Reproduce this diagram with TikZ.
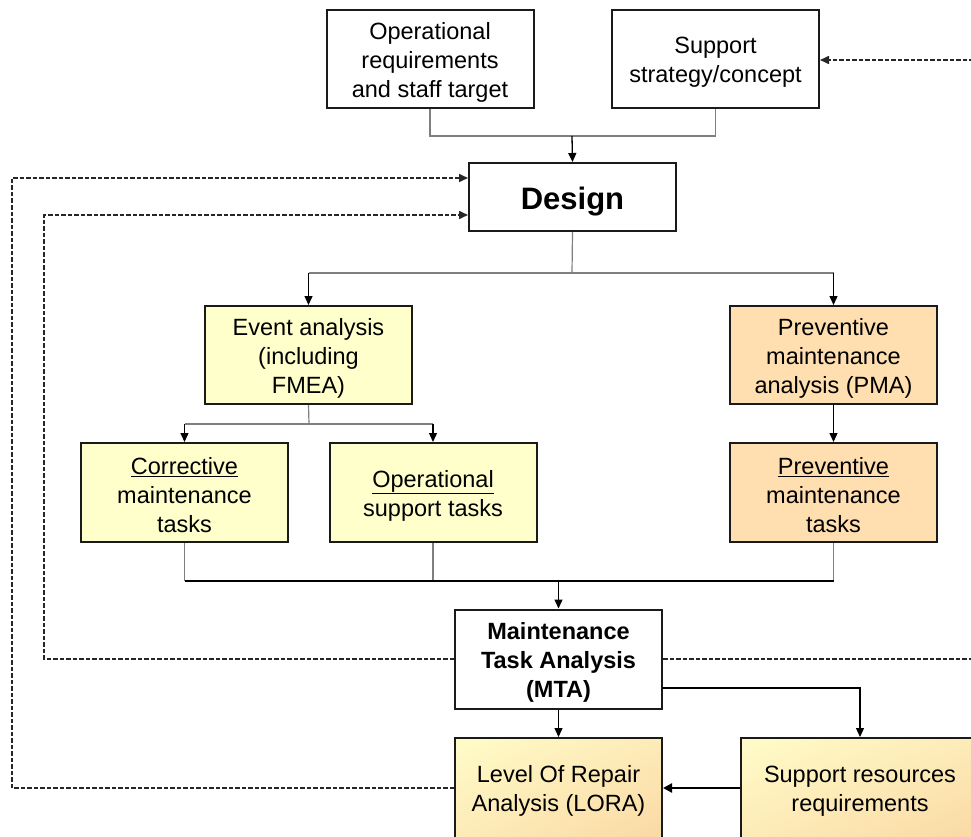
\documentclass[tikz,border=0pt]{standalone}
\usepackage{fontspec}
\setmainfont{Liberation Sans}
\usetikzlibrary{arrows.meta,shadings}
\definecolor{paleyellow}{HTML}{FFFFCC}
\definecolor{paleorange}{HTML}{FFDFB0}
\definecolor{shadeA}{HTML}{FFFCC8}
\definecolor{shadeB}{HTML}{FDEBB8}
\definecolor{shadeC}{HTML}{FAD9A4}
\definecolor{edge}{HTML}{1A1A1A}
\definecolor{link}{HTML}{7F7F7F}
% invisible strut that lowers the first line a little
\newcommand{\padtop}{\rule{0pt}{23pt}}
\begin{document}
\begin{tikzpicture}[x=1pt,y=-1pt,
  basebox/.style={draw=edge, line width=2pt, minimum width=207pt, minimum height=98pt,
    align=center, inner sep=2pt, font=\fontsize{23.5}{29}\selectfont},
  whitebox/.style={basebox, fill=white},
  yellowbox/.style={basebox, fill=paleyellow},
  orangebox/.style={basebox, fill=paleorange},
  warmbox/.style={basebox, upper left=shadeA, upper right=shadeB, lower left=shadeB, lower right=shadeC},
  linkline/.style={draw=link, line width=1.2pt},
  feedarrow/.style={draw=black, line width=1.3pt, -{Triangle[length=9pt,width=8pt]}},
  heavyarrow/.style={draw=black, line width=2.6pt, -{Triangle[length=9pt,width=9pt]}},
  backarrow/.style={draw=black!85, line width=1.6pt, dash pattern=on 4.5pt off 2pt, -{Triangle[length=9pt,width=8pt]}}
]
\useasboundingbox (0,0) rectangle (971,837);

% boxes
\node[whitebox] (opreq) at (430,59) {\padtop Operational\\requirements\\and staff target};
\node[whitebox] (strat) at (715.5,59) {\padtop Support\\strategy/concept};
\node[whitebox, minimum height=68pt, font=\fontsize{31}{36}\selectfont\bfseries] (design) at (572.5,197) {\rule{0pt}{31pt}Design};
\node[yellowbox] (event) at (308.5,355) {\padtop Event analysis\\(including\\FMEA)};
\node[orangebox] (pma) at (833.5,355) {\padtop Preventive\\maintenance\\analysis (PMA)};
\node[yellowbox, minimum height=99pt] (corr) at (184.5,492.5) {\padtop\underline{Corrective}\\maintenance\\tasks};
\node[yellowbox, minimum height=99pt] (opsup) at (433,492.5) {\padtop\underline{Operational}\\support tasks};
\node[orangebox, minimum height=99pt] (prevt) at (833.5,492.5) {\padtop\underline{Preventive}\\maintenance\\tasks};
\node[whitebox, minimum height=99pt, font=\fontsize{23.5}{29}\selectfont\bfseries] (mta) at (558.5,659) {\rule{0pt}{24pt}Maintenance\\Task Analysis\\(MTA)};
\node[warmbox, minimum height=100pt] (lora) at (558.5,788) {\padtop Level Of Repair\\Analysis (LORA)};
\node[warmbox, minimum width=238pt, minimum height=100pt] (supres) at (860,788) {\padtop Support resources\\requirements};

% junction points
\coordinate (jtop) at (572,136);
\coordinate (jdes) at (572,273);
\coordinate (jev) at (309,424);
\coordinate (jbot) at (558.5,581);
\coordinate (mout) at (662,688);
\coordinate (fbA) at (12,178);
\coordinate (fbB) at (44,215);
\coordinate (fbC) at (990,60);

% inputs to design
\draw[linkline] (opreq.south) |- (jtop) -| (strat.south);
\draw[feedarrow] (jtop) -- (design.north);

% design to the two analyses
\draw[linkline] (design.south) -- (jdes);
\draw[linkline] (event.north |- jdes) -- (pma.north |- jdes);
\draw[feedarrow] (event.north |- jdes) -- (event.north);
\draw[feedarrow] (pma.north |- jdes) -- (pma.north);

% event analysis to its tasks
\draw[linkline] (event.south) -- (jev);
\draw[linkline] (corr.north |- jev) -- (opsup.north |- jev);
\draw[feedarrow] (corr.north |- jev) -- (corr.north);
\draw[feedarrow] (opsup.north |- jev) -- (opsup.north);
\draw[feedarrow] (pma.south) -- (prevt.north);

% tasks merge into MTA
\draw[linkline] (corr.south) -- (corr.south |- jbot);
\draw[linkline] (opsup.south) -- (opsup.south |- jbot);
\draw[linkline] (prevt.south) -- (prevt.south |- jbot);
\draw[draw=black, line width=1.6pt] (corr.south |- jbot) -- (prevt.south |- jbot);
\draw[feedarrow] (jbot) -- (mta.north);

% MTA outputs
\draw[feedarrow] (mta.south) -- (lora.north);
\draw[feedarrow] (mout) -| (supres.north);
\draw[heavyarrow] (supres.west) -- (lora.east);

% feedback loops
\draw[backarrow] (lora.west) -| (fbA) -- (design.west |- fbA);
\draw[backarrow] (mta.west) -| (fbB) -- (design.west |- fbB);
\draw[backarrow] (mta.east) -| (fbC) -- (strat.east |- fbC);
\end{tikzpicture}
\end{document}
